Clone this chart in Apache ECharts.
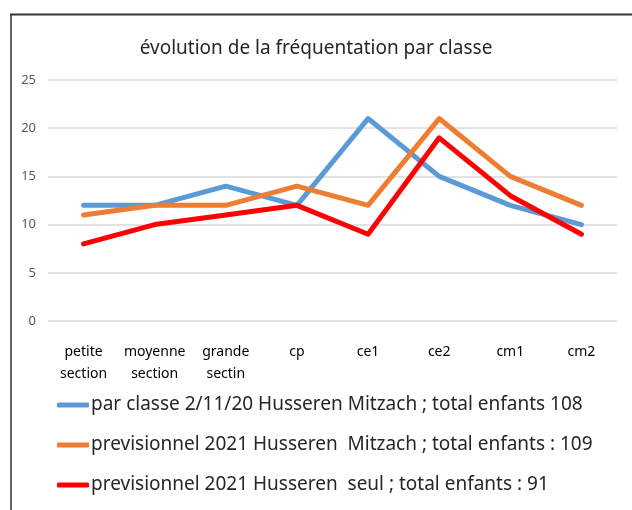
<!DOCTYPE html>
<html>
<head>
<meta charset="utf-8">
<script src="https://cdn.jsdelivr.net/npm/echarts@6/dist/echarts.min.js"></script>
<style>
html,body{margin:0;padding:0;background:#fff;}
#c{width:632px;height:510px;}
</style>
</head>
<body>
<div id="c"></div>
<script>
var categories = ['petite\nsection', 'moyenne\nsection', 'grande\nsectin', 'cp', 'ce1', 'ce2', 'cm1', 'cm2'];
var seriesNames = [
  'par classe 2/11/20 Husseren Mitzach ; total enfants 108',
  'previsionnel 2021 Husseren  Mitzach ; total enfants : 109',
  'previsionnel 2021 Husseren  seul ; total enfants : 91'
];
var parClasse2020 = [12, 12, 14, 12, 21, 15, 12, 10];
var prev2021Mitzach = [11, 12, 12, 14, 12, 21, 15, 12];
var prev2021Seul = [8, 10, 11, 12, 9, 19, 13, 9];
var yTicks = [0, 5, 10, 15, 20, 25];
var colors = ['#5B9BD5', '#ED7D31', '#FF0000'];
var FONT = '"Noto Sans", sans-serif';

var chart = echarts.init(document.getElementById('c'), null, {renderer: 'canvas'});
function mk(name, data, color) {
  return {
    name: name, type: 'line', data: data, symbol: 'none', smooth: false,
    lineStyle: {color: color, width: 5, cap: 'round', join: 'round'},
    itemStyle: {color: color}
  };
}
chart.setOption({
  animation: false,
  backgroundColor: '#fff',
  textStyle: {fontFamily: FONT},
  title: {
    text: 'évolution de la fréquentation par classe',
    left: 'center', top: 34,
    textStyle: {fontFamily: FONT, fontSize: 19, fontWeight: 'normal', color: '#262626'}
  },
  grid: {left: 48, right: 15, top: 80, height: 241, containLabel: false},
  xAxis: {
    type: 'category', data: categories, boundaryGap: true,
    axisLine: {show: false}, axisTick: {show: false},
    axisLabel: {fontFamily: FONT, fontSize: 14, color: '#000', margin: 20, lineHeight: 22, interval: 0}
  },
  yAxis: {
    type: 'value', min: yTicks[0], max: yTicks[yTicks.length - 1], interval: 5,
    axisLine: {show: false}, axisTick: {show: false},
    splitLine: {lineStyle: {color: '#D9D9D9', width: 1.5}},
    axisLabel: {fontFamily: FONT, fontSize: 13, color: '#595959', margin: 12}
  },
  legend: {
    orient: 'vertical', left: 52, top: 389, itemGap: 18,
    itemWidth: 32, itemHeight: 5, icon: 'roundRect', itemStyle: {borderWidth: 0},
    textStyle: {fontFamily: FONT, fontSize: 19, lineHeight: 22, color: '#262626', padding: [0, 0, 0, -3]},
    data: seriesNames
  },
  graphic: [
    {type: 'line', shape: {x1: 10, y1: 14.5, x2: 632, y2: 14.5}, style: {stroke: '#333', lineWidth: 2}},
    {type: 'line', shape: {x1: 11, y1: 14, x2: 11, y2: 510}, style: {stroke: '#333', lineWidth: 1.5}}
  ],
  series: [
    mk(seriesNames[0], parClasse2020, colors[0]),
    mk(seriesNames[1], prev2021Mitzach, colors[1]),
    mk(seriesNames[2], prev2021Seul, colors[2])
  ]
});
</script>
</body>
</html>
